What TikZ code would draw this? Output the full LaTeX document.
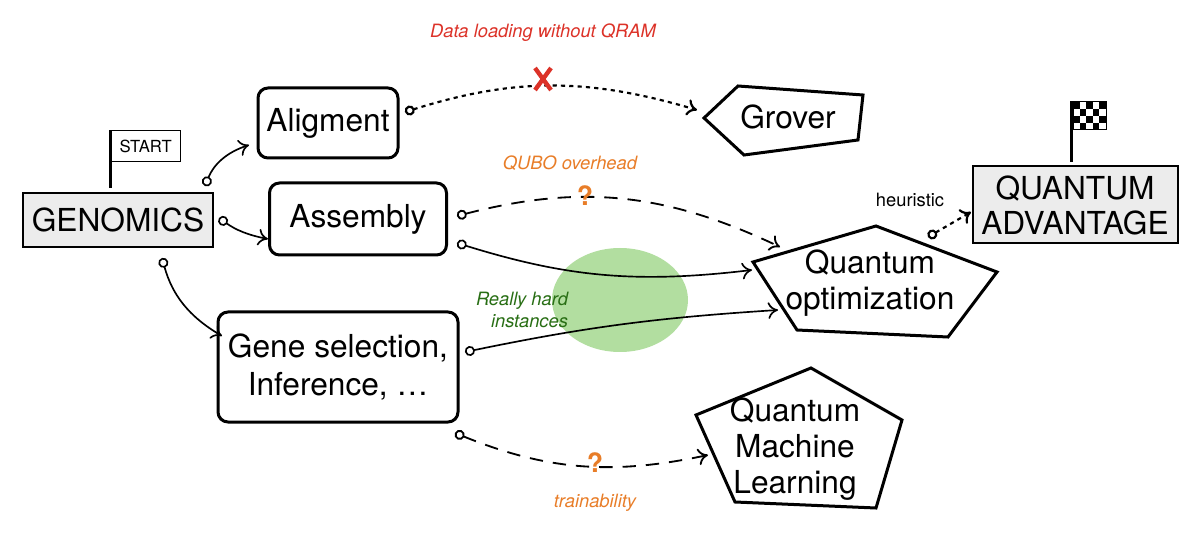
\documentclass[tikz,border=0pt]{standalone}
\usepackage{fontspec}
\setmainfont{TeX Gyre Heros}
\usetikzlibrary{arrows.meta,calc}
\definecolor{qred}{RGB}{220,50,40}
\definecolor{qorange}{RGB}{232,125,40}
\definecolor{qgreen}{RGB}{40,110,20}
\definecolor{qlight}{RGB}{178,222,160}
\tikzset{
  box/.style={draw, line width=1.8pt, rounded corners=6pt, align=center, font=\fontsize{19}{23}\selectfont},
  gbox/.style={draw, line width=1.2pt, fill=gray!15, align=center, font=\fontsize{19}{21}\selectfont},
  poly/.style={draw, line width=1.8pt, line join=miter},
  ptext/.style={align=center, font=\fontsize{19}{21.5}\selectfont},
  conn/.style={line width=1pt, {Circle[open,length=6pt,width=6pt]}-{To[length=6pt,width=10pt]}},
  dots/.style={dash pattern=on 2.5pt off 2.5pt, line width=1.3pt},
  dashes/.style={dash pattern=on 8pt off 6pt, line width=1.1pt},
  lab/.style={font=\itshape\fontsize{11}{13.5}\selectfont},
}
\begin{document}
\begin{tikzpicture}[x=0.6pt,y=-0.6pt]
\useasboundingbox (0,0) rectangle (1200,536);
% green highlight
\fill[qlight] (620,300) ellipse [x radius=68, y radius=52];

% boxes
\node[gbox, minimum width=190*0.6pt, minimum height=54*0.6pt] (gen) at (118,220) {GENOMICS};
\node[box, minimum width=140*0.6pt, minimum height=70*0.6pt] (ali) at (328,123) {Aligment};
\node[box, minimum width=177*0.6pt, minimum height=72*0.6pt] (ass) at (358,219) {Assembly};
\node[box, minimum width=240*0.6pt, minimum height=110*0.6pt] (gene) at (338,367) {Gene selection,\\Inference, \dots};
\node[gbox, minimum width=205*0.6pt, minimum height=77*0.6pt] (qa) at (1075,205) {QUANTUM\\ADVANTAGE};

% START flag
\draw[line width=1.8pt] (110,188) -- (110,130);
\node[draw, line width=0.8pt, font=\fontsize{10}{12}\selectfont, minimum width=70*0.6pt, minimum height=31*0.6pt, anchor=north west, inner sep=1pt] (start) at (110,130) {START};

% finish flag
\draw[line width=1.8pt] (1071,162) -- (1071,101);
\foreach \i in {0,...,4}
  \foreach \j in {0,...,3} {
    \pgfmathtruncatemacro\chk{mod(\i+\j,2)}
    \ifnum\chk=0
      \fill (1073+6.6*\i,102+7*\j) rectangle ++(6.6,7);
    \fi
  }
\draw[line width=0.6pt] (1073,102) rectangle (1106,130);

% pentagons
\draw[poly] (704,118) -- (738,86) -- (863,95) -- (858,140) -- (744,155) -- cycle;
\node[ptext] (grover) at (788,117) {Grover};
\draw[poly] (753,262) -- (876,226) -- (997,272) -- (948,337) -- (797,330) -- cycle;
\node[ptext] (qo) at (870,283) {Quantum\\optimization};
\draw[poly] (696,415) -- (811,368) -- (902,420) -- (876,508) -- (735,502) -- cycle;
\node[ptext] (qml) at (795,449) {Quantum\\Machine\\Learning};

% anchor coordinates
\coordinate (gA) at (205,186);
\coordinate (gB) at (219,218);
\coordinate (gC) at (162,258);
\coordinate (aliE) at (249,145);
\coordinate (assW) at (268,239);
\coordinate (geneW) at (222,336);
\coordinate (aliO) at (405,112);
\coordinate (groverW) at (697,110);
\coordinate (assO1) at (457,216);
\coordinate (assO2) at (457,243);
\coordinate (qoA) at (780,247);
\coordinate (qoB) at (752,270);
\coordinate (qoC) at (778,310);
\coordinate (geneO1) at (465,352);
\coordinate (geneO2) at (455,433);
\coordinate (qmlW) at (708,455);
\coordinate (qoO) at (928,237);
\coordinate (qaW) at (971,212);

% connectors
\draw[conn] (gA) to[bend left=25] (aliE);
\draw[conn] (gB) to[bend right=12] (assW);
\draw[conn] (gC) to[bend right=22] (geneW);
\draw[conn, dots] (aliO) to[bend left=17] (groverW);
\draw[conn, dashes] (assO1) to[bend left=20] (qoA);
\draw[conn] (assO2) to[bend right=12] (qoB);
\draw[conn] (geneO1) to[bend left=4] (qoC);
\draw[conn, dashes] (geneO2) to[bend right=17] (qmlW);
\draw[conn, dots] (qoO) -- (qaW);

% labels
\node[lab, text=qred] (l1) at (543,33) {Data loading without QRAM};
\coordinate (xc) at (543,79);
\draw[qred, line width=2.6pt] ($(xc)+(-8,-11)$) -- ($(xc)+(8,11)$) ($(xc)+(8,-11)$) -- ($(xc)+(-8,11)$);
\node[lab, text=qorange] (l2) at (570,163) {QUBO overhead};
\node[text=qorange, font=\bfseries\fontsize{16}{16}\selectfont] (q1) at (585,196) {?};
\node[lab, text=qgreen, align=right] (l3) at (522,310) {Really hard\\instances};
\node[text=qorange, font=\bfseries\fontsize{16}{16}\selectfont] (q2) at (595,463) {?};
\node[lab, text=qorange] (l4) at (595,503) {trainability};
\node[font=\fontsize{11}{13}\selectfont] (l5) at (910,200) {heuristic};
\end{tikzpicture}
\end{document}
